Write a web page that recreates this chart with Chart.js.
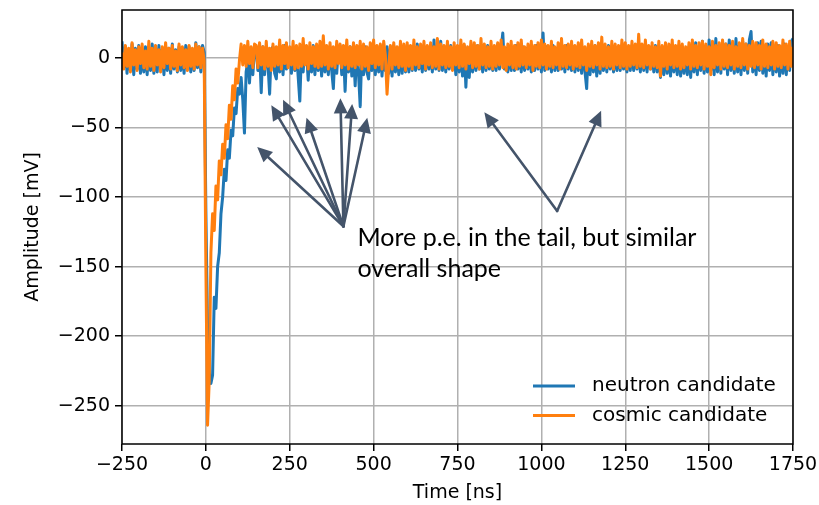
<!DOCTYPE html>
<html>
<head>
<meta charset="utf-8">
<script src="https://cdn.jsdelivr.net/npm/chart.js@4.4.1/dist/chart.umd.min.js"></script>
<style>
  html, body { margin: 0; padding: 0; background: #fff; }
  canvas { display: block; }
</style>
</head>
<body>
<canvas id="waveChart" width="819" height="505"></canvas>
<script>
// digitizer time base: first sample at -250 ns, one sample every 5 ns
const T0 = -250;
const DT = 5;

// amplitude in mV, ten samples (50 ns) per row
const neutronCandidate = [
  12,-7,8,-11,6,-9,10,-12,7,-8,
  9,-11,6,-10,8,-12,7,-9,10,-11,
  7,-10,9,-8,6,-12,8,-9,7,-11,
  10,-8,6,-10,8,-9,7,-11,9,-8,
  8,-10,6,-9,11,-7,8,-10,9,4,
  -110,-195,-226,-234,-228,-172,-180,-150,-140,-112,
  -100,-80,-88,-66,-72,-52,-56,-36,-40,-22,
  -26,-14,-30,-54,-10,-2,-18,3,-12,6,
  7,-9,6,-25,8,-12,5,-4,-26,6,
  8,-11,-15,7,-10,6,-12,9,-8,5,
  7,-11,8,-9,6,-13,-31,5,-10,8,
  4,-16,7,-10,9,-12,6,-9,8,-13,
  7,-10,5,-12,8,-9,-22,6,-11,7,
  9,-12,6,-24,7,-10,8,-13,5,-20,
  6,-11,-35,7,-12,8,-10,-15,6,-9,
  8,-12,7,-10,9,-13,6,-9,8,-11,
  7,-13,9,-10,6,-12,8,-11,7,-10,
  9,-10,7,-9,8,-9,10,-8,6,-10,
  8,-9,7,-8,9,-10,13,-8,7,-9,
  12,-9,8,-10,7,-8,9,-8,6,-12,
  8,-10,7,-13,9,-21,6,-14,8,-10,
  7,-9,9,-8,6,-10,8,-9,9,-8,
  8,-9,7,-9,10,-8,6,18,-8,7,
  -10,8,-9,6,-9,9,-8,7,-10,8,
  -9,7,-8,8,-10,6,-9,9,-8,7,
  -10,18,-9,8,-8,7,-10,9,-9,6,
  -9,8,-8,7,-10,9,-8,6,-9,8,
  -10,7,-9,9,-11,6,-10,-22,8,-12,
  7,-10,9,-13,8,-11,6,-9,8,-10,
  9,-8,7,-10,8,-9,6,-9,9,-8,
  7,-10,8,-9,9,-9,6,-8,8,-10,
  9,-9,7,-10,8,-8,6,-10,9,-10,
  8,-14,7,-12,9,-11,6,-13,8,-10,
  7,-12,9,-13,8,-11,6,-12,8,-14,
  9,-10,11,-12,8,-9,12,-11,7,-10,
  13,-9,10,-12,14,-10,9,-11,12,-8,
  10,-12,13,-9,8,-11,14,-10,9,-12,
  12,-9,10,-11,13,19,-10,8,-12,11,
  -9,12,-11,8,-13,10,-9,11,-12,8,
  -10,9,-13,7,-11,10,-12,8,-9,12,
  14
];

const cosmicCandidate = [
  4,-8,9,-6,7,-10,11,-5,6,-9,
  8,-4,10,-7,5,-8,12,-6,7,-9,
  9,-5,6,-10,8,-7,11,-4,7,-8,
  9,-6,5,-9,10,-5,8,-7,6,-9,
  9,-6,7,-8,10,-5,8,-7,7,-2,
  -150,-264,-232,-140,-112,-124,-92,-102,-74,-84,
  -62,-72,-48,-58,-34,-44,-20,-30,-8,-18,
  -2,10,-5,9,-6,12,-4,8,-7,10,
  9,-7,11,-5,8,-8,12,-6,7,-9,
  10,-6,8,-5,13,-8,9,-4,11,-7,
  8,-5,12,-8,9,-7,10,-6,14,-5,
  9,-8,11,-4,8,-6,10,-7,12,-6,
  16,-5,9,-8,11,-6,8,-7,12,-4,
  10,-7,9,-5,13,-8,8,-6,11,-7,
  9,-5,12,-8,10,-6,8,-9,11,-4,
  13,-7,9,-5,10,-8,12,2,-26,-6,
  9,-8,11,-5,8,-7,12,-6,10,-9,
  11,-6,9,-8,13,-5,8,-7,10,-4,
  12,-8,9,-5,11,-7,8,-6,14,-8,
  10,-5,9,-7,12,-6,8,-9,11,-5,
  9,-7,13,-6,10,-8,8,-4,12,-7,
  11,-6,9,-8,14,-5,10,-7,8,-6,
  12,-8,9,-6,11,-5,13,-7,8,-9,
  10,-5,12,-7,9,-8,11,-6,13,-5,
  8,-7,10,-5,12,-9,9,-6,11,-7,
  13,-5,10,-8,9,-6,12,-7,8,-5,
  11,-8,14,-6,9,-7,10,-5,12,-8,
  9,-6,11,-7,13,-5,8,-9,10,-6,
  12,-7,9,-5,11,-8,15,-6,10,-7,
  8,-6,12,-8,10,-5,9,-7,13,-6,
  11,-8,9,-6,12,-5,10,-7,17,-6,
  10,-7,13,-5,9,-8,11,-6,8,-7,
  12,-13,9,-6,11,-8,10,-5,13,-7,
  9,-6,12,-8,10,-7,8,-5,11,-8,
  13,-6,9,-7,11,-5,12,-8,10,-6,
  8,-12,12,-7,9,-5,11,-8,13,-6,
  10,-7,9,-5,12,-8,8,-6,11,-7,
  14,-5,10,-8,9,-6,12,-7,11,-5,
  9,-8,13,-6,10,-7,8,-5,12,-8,
  11,-6,9,-7,13,-5,10,-8,12,-6,
  8
];

const seriesLabels = ['neutron candidate', 'cosmic candidate'];
const seriesColors = ['#1f77b4', '#ff7f0e'];
const timeTicks = [-250, 0, 250, 500, 750, 1000, 1250, 1500, 1750];
const ampTicks = [-250, -200, -150, -100, -50, 0];

// callouts: [tail ns, tail mV, head ns, head mV]
const arrows = [
  [410, -121, 153, -64],
  [410, -121, 195, -34],
  [410, -121, 230, -30],
  [410, -121, 300, -43],
  [410, -121, 401, -29],
  [410, -121, 436, -33],
  [410, -121, 481, -43],
  [1047, -110, 830, -39],
  [1047, -110, 1178, -38]
];
const noteLines = ['More p.e. in the tail, but similar', 'overall shape'];
const noteAt = [452, -135.5];

const FONT = 'DejaVu Sans';
const toPoints = arr => arr.map((v, i) => ({ x: T0 + i * DT, y: v }));
const minus = v => String(v).replace('-', '\u2212');

function drawArrow(ctx, x1, y1, x2, y2) {
  const ang = Math.atan2(y2 - y1, x2 - x1);
  const len = 15, half = 7;
  const bx = x2 - len * Math.cos(ang), by = y2 - len * Math.sin(ang);
  ctx.beginPath();
  ctx.moveTo(x1, y1);
  ctx.lineTo(bx, by);
  ctx.stroke();
  ctx.beginPath();
  ctx.moveTo(x2, y2);
  ctx.lineTo(bx + half * Math.sin(ang), by - half * Math.cos(ang));
  ctx.lineTo(bx - half * Math.sin(ang), by + half * Math.cos(ang));
  ctx.closePath();
  ctx.fill();
}

const overlay = {
  id: 'overlay',
  afterDraw(chart) {
    const { ctx, chartArea: a, scales: { x, y } } = chart;
    ctx.save();

    // axes frame
    ctx.strokeStyle = '#000';
    ctx.lineWidth = 1.5;
    ctx.strokeRect(a.left, a.top, a.right - a.left, a.bottom - a.top);

    // legend, lower right, no frame
    ctx.font = '20px "' + FONT + '"';
    ctx.textBaseline = 'middle';
    ctx.textAlign = 'left';
    seriesLabels.forEach((lab, i) => {
      const ry = a.bottom - 58 + i * 29.5;
      ctx.strokeStyle = seriesColors[i];
      ctx.lineWidth = 3;
      ctx.beginPath();
      ctx.moveTo(a.right - 260, ry);
      ctx.lineTo(a.right - 218, ry);
      ctx.stroke();
      ctx.fillStyle = '#000';
      ctx.fillText(lab, a.right - 201, ry);
    });

    // callout arrows
    ctx.strokeStyle = '#44546a';
    ctx.fillStyle = '#44546a';
    ctx.lineWidth = 2.6;
    ctx.lineCap = 'round';
    arrows.forEach(([t1, v1, t2, v2]) => {
      drawArrow(ctx, x.getPixelForValue(t1), y.getPixelForValue(v1),
                x.getPixelForValue(t2), y.getPixelForValue(v2));
    });

    // note text
    ctx.fillStyle = '#000';
    ctx.font = '25px Lato';
    ctx.textBaseline = 'alphabetic';
    const nx = x.getPixelForValue(noteAt[0]);
    const ny = y.getPixelForValue(noteAt[1]);
    noteLines.forEach((line, i) => ctx.fillText(line, nx, ny + i * 30.5));

    ctx.restore();
  }
};

const gridOpts = {
  color: '#b0b0b0',
  lineWidth: 1.5,
  tickColor: '#000',
  tickWidth: 1.5,
  tickLength: 7
};

new Chart(document.getElementById('waveChart').getContext('2d'), {
  type: 'line',
  data: {
    datasets: [
      {
        label: seriesLabels[0],
        data: toPoints(neutronCandidate),
        borderColor: seriesColors[0],
        borderWidth: 3,
        order: 1
      },
      {
        label: seriesLabels[1],
        data: toPoints(cosmicCandidate),
        borderColor: seriesColors[1],
        borderWidth: 3,
        order: 0
      }
    ]
  },
  options: {
    responsive: false,
    animation: false,
    parsing: false,
    normalized: true,
    layout: { padding: { top: 10, right: 26, left: 0, bottom: 0 } },
    elements: {
      point: { radius: 0 },
      line: { tension: 0, borderJoinStyle: 'round', fill: false }
    },
    plugins: {
      legend: { display: false },
      tooltip: { enabled: false }
    },
    scales: {
      x: {
        type: 'linear',
        min: -250,
        max: 1750,
        afterBuildTicks: s => { s.ticks = timeTicks.map(v => ({ value: v })); },
        afterFit: s => { s.height = 61; s.paddingLeft = 0; s.paddingRight = 0; },
        grid: gridOpts,
        border: { display: false },
        ticks: {
          autoSkip: false,
          maxRotation: 0,
          padding: 3,
          color: '#000',
          font: { family: FONT, size: 19 },
          callback: v => minus(v)
        },
        title: {
          display: true,
          text: 'Time [ns]',
          color: '#000',
          font: { family: FONT, size: 19 },
          padding: { top: 0, bottom: 1 }
        }
      },
      y: {
        type: 'linear',
        min: -277.5,
        max: 34.5,
        afterBuildTicks: s => { s.ticks = ampTicks.map(v => ({ value: v })); },
        afterFit: s => { s.width = 122; s.paddingTop = 0; s.paddingBottom = 0; },
        grid: gridOpts,
        border: { display: false },
        ticks: {
          padding: 5,
          color: '#000',
          font: { family: FONT, size: 19 },
          callback: v => minus(v)
        },
        title: {
          display: true,
          text: 'Amplitude [mV]',
          color: '#000',
          font: { family: FONT, size: 19 },
          padding: { top: 22, bottom: 0 }
        }
      }
    }
  },
  plugins: [overlay]
});
</script>
</body>
</html>
